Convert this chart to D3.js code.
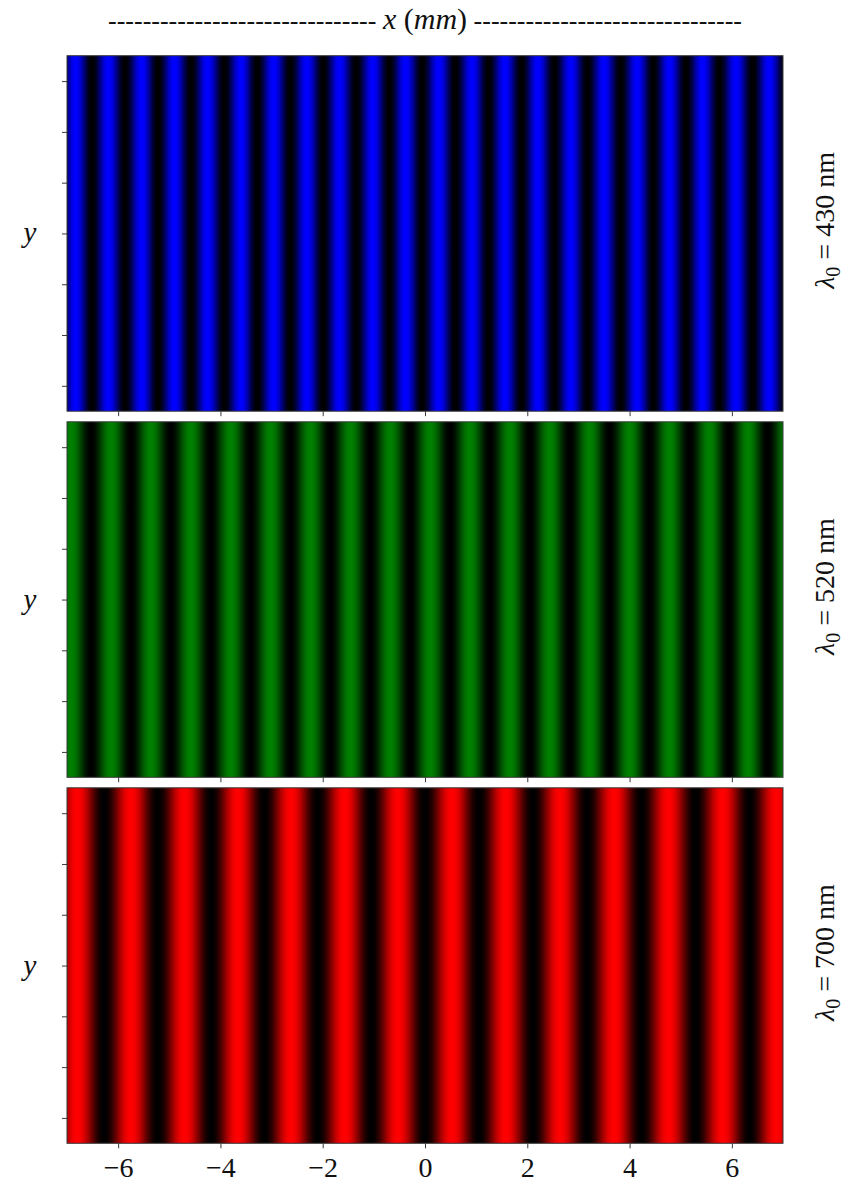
<!DOCTYPE html>
<html>
<head>
<meta charset="utf-8">
<script src="https://cdn.jsdelivr.net/npm/d3@7"></script>
<style>
  body { margin: 0; background: #fff; }
  text { font-family: "Liberation Serif", "DejaVu Serif", serif; fill: #111; }
</style>
</head>
<body>
<svg id="chart" width="854" height="1185"></svg>
<script>
// wavelengths (nm) and colour of each panel, top to bottom
const wavelengths = [430, 520, 700];
const panelColors = ['#0000ff', '#008000', '#ff0000'];

// bright fringe centres (mm)
const blueFringes = [-6.83, -6.19, -5.54, -4.90, -4.25, -3.60, -2.96, -2.31, -1.67, -1.02, -0.38,
  0.27, 0.92, 1.56, 2.21, 2.85, 3.50, 4.15, 4.78, 5.43, 6.08, 6.73];
const greenFringes = [-6.92, -6.14, -5.36, -4.58, -3.80, -3.02, -2.24, -1.46, -0.68,
  0.10, 0.88, 1.66, 2.44, 3.22, 4.00, 4.78, 5.56, 6.32];
const redFringes = [-6.80, -5.75, -4.70, -3.66, -2.62, -1.57, -0.53,
  0.53, 1.58, 2.64, 3.70, 4.76, 5.82, 6.87];

const xTicks = [-6, -4, -2, 0, 2, 4, 6];
const yTicks = [-3, -2, -1, 0, 1, 2, 3];

const fringes = [blueFringes, greenFringes, redFringes];

const svg = d3.select('#chart');
const left = 67, right = 783;
const panelTops = [55.7, 421.8, 787.8];
const panelH = 355.5;

const x = d3.scaleLinear().domain([-7, 7]).range([left, right]);

// cos^2 profile between neighbouring bright fringes
function intensity(xm, centers) {
  let i = d3.bisectRight(centers, xm) - 1;
  i = Math.max(0, Math.min(centers.length - 2, i));
  const a = centers[i], b = centers[i + 1];
  const u = (xm - a) / (b - a);
  return Math.cos(Math.PI * u) ** 2;
}

const defs = svg.append('defs');

wavelengths.forEach((wl, k) => {
  const top = panelTops[k];
  const y = d3.scaleLinear().domain([-3.5, 3.5]).range([top + panelH, top]);
  const cmap = d3.interpolateRgb('#000000', panelColors[k]);

  const grad = defs.append('linearGradient')
    .attr('id', `fringe-${k}`)
    .attr('gradientUnits', 'userSpaceOnUse')
    .attr('x1', x(-7)).attr('x2', x(7))
    .attr('y1', 0).attr('y2', 0);

  const samples = d3.range(-7, 7.0001, 0.01);
  grad.selectAll('stop')
    .data(samples)
    .enter().append('stop')
    .attr('offset', d => (x(d) - x(-7)) / (x(7) - x(-7)))
    .attr('stop-color', d => cmap(intensity(d, fringes[k])));

  const g = svg.append('g');

  g.append('rect')
    .attr('x', x(-7)).attr('y', y(3.5))
    .attr('width', x(7) - x(-7)).attr('height', y(-3.5) - y(3.5))
    .attr('fill', `url(#fringe-${k})`);

  // frame
  g.append('rect')
    .attr('x', x(-7)).attr('y', y(3.5))
    .attr('width', x(7) - x(-7)).attr('height', y(-3.5) - y(3.5))
    .attr('fill', 'none')
    .attr('stroke', '#3a3a3a')
    .attr('stroke-width', 1);

  // y ticks, no labels
  const ya = g.append('g')
    .attr('transform', `translate(${x(-7)},0)`)
    .call(d3.axisLeft(y).tickValues(yTicks).tickSize(5).tickFormat(''));
  ya.select('.domain').remove();
  ya.selectAll('line').attr('stroke', '#3a3a3a');

  // x ticks, labels only on the last panel
  const xa = g.append('g')
    .attr('transform', `translate(0,${y(-3.5)})`)
    .call(d3.axisBottom(x).tickValues(xTicks).tickSize(5).tickPadding(9)
      .tickFormat(k === 2 ? d3.format('') : ''));
  xa.select('.domain').remove();
  xa.selectAll('line').attr('stroke', '#3a3a3a');
  xa.selectAll('text')
    .style('font-family', '"Liberation Serif", serif')
    .style('font-size', '28px')
    .attr('fill', '#111');

  // y label
  g.append('text')
    .attr('x', 30).attr('y', y(0) + 9)
    .attr('text-anchor', 'middle')
    .style('font-size', '29px')
    .style('font-style', 'italic')
    .text('y');

  // wavelength label on the right
  const lab = g.append('text')
    .attr('transform', `translate(834,${y(0) - 13}) rotate(-90)`)
    .attr('text-anchor', 'middle')
    .style('font-size', '28px');
  lab.append('tspan').style('font-style', 'italic').text('λ');
  lab.append('tspan').attr('dy', 6).style('font-size', '20px').text('0');
  lab.append('tspan').attr('dy', -6).attr('dx', 7).text('=');
  lab.append('tspan').attr('dx', 7).text(`${wl} nm`);
});

// title
const dashes = '-'.repeat(31);
const title = svg.append('text')
  .attr('x', 425).attr('y', 29)
  .attr('text-anchor', 'middle')
  .style('font-size', '30px');
title.append('tspan').style('font-size', '26px').text(dashes + ' ');
title.append('tspan').style('font-style', 'italic').text('x');
title.append('tspan').text(' (');
title.append('tspan').style('font-style', 'italic').text('mm');
title.append('tspan').text(')');
title.append('tspan').style('font-size', '26px').text(' ' + dashes);
</script>
</body>
</html>
